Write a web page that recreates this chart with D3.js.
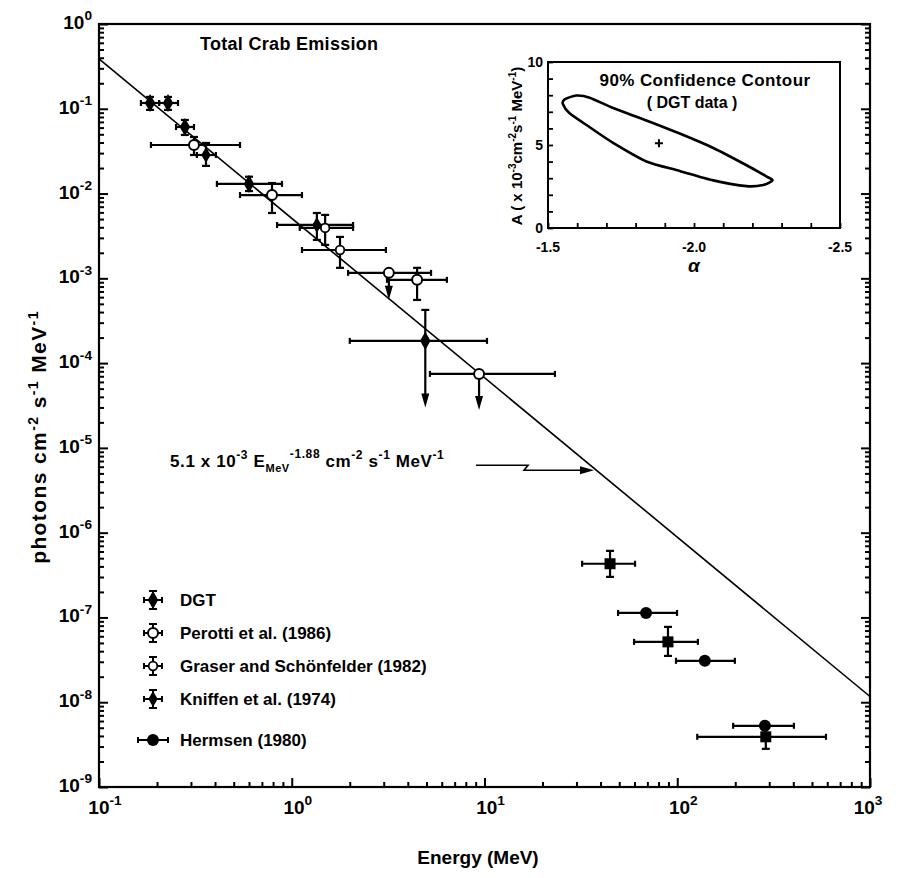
<html lang="en">
<head>
<meta charset="UTF-8">
<script src="https://d3js.org/d3.v7.min.js"></script>
<style>
  body { margin: 0; background: #fff; }
  svg text { font-family: "Liberation Sans", Arial, sans-serif; font-weight: bold; fill: #000; }
</style>
</head>
<body>
<div id="chart"></div>
<script>
// ---- data (E in MeV, flux in photons cm^-2 s^-1 MeV^-1) ----
const dgt = [
  { e: 0.184, f: 0.117,  eLo: 0.165, eHi: 0.205, fLo: 0.097,  fHi: 0.138 },
  { e: 0.228, f: 0.117,  eLo: 0.205, eHi: 0.257, fLo: 0.097,  fHi: 0.138 },
  { e: 0.279, f: 0.061,  eLo: 0.251, eHi: 0.311, fLo: 0.0491, fHi: 0.0738 },
  { e: 0.60,  f: 0.013,  eLo: 0.409, eHi: 0.89,  fLo: 0.0107, fHi: 0.0158 },
  { e: 4.93,  f: 1.83e-4, eLo: 2.0,  eHi: 10.3,  fLo: null,   fHi: 4.24e-4, ul: 3.0e-5 }
];
const perotti = [
  { e: 0.311, f: 0.0374, eLo: 0.186, eHi: 0.539, fLo: 0.0285, fHi: 0.0465 },
  { e: 0.79,  f: 0.0096, eLo: 0.539, eHi: 1.13,  fLo: 0.0059, fHi: 0.0133 },
  { e: 3.19,  f: 1.16e-3, eLo: 1.96, eHi: 5.28,  fLo: null,   fHi: null, ul: 5.6e-4 },
  { e: 4.47,  f: 9.6e-4, eLo: 3.12,  eHi: 6.38,  fLo: 5.56e-4, fHi: 1.33e-3 },
  { e: 9.37,  f: 7.46e-5, eLo: 5.21, eHi: 23.2,  fLo: null,   fHi: null, ul: 2.8e-5 }
];
const graser = [
  { e: 1.49, f: 3.93e-3, eLo: 1.1,  eHi: 2.08, fLo: 2.48e-3, fHi: 5.6e-3 },
  { e: 1.78, f: 2.16e-3, eLo: 1.13, eHi: 3.08, fLo: 1.33e-3, fHi: 3.08e-3 }
];
const kniffen = [
  { e: 0.359, f: 0.0285, eLo: 0.322, eHi: 0.404, fLo: 0.0212, fHi: 0.0395 },
  { e: 1.35,  f: 4.26e-3, eLo: 0.839, eHi: 2.08, fLo: 2.84e-3, fHi: 5.9e-3 }
];
const hermsen = [
  { e: 44.8, f: 4.3e-7,  eLo: 32.1, eHi: 60.4, fLo: 3.01e-7, fHi: 6.1e-7 },
  { e: 68.9, f: 1.13e-7, eLo: 49.3, eHi: 99.7, fLo: null, fHi: null },
  { e: 89.5, f: 5.15e-8, eLo: 59.7, eHi: 128,  fLo: 3.52e-8, fHi: 7.74e-8 },
  { e: 139,  f: 3.08e-8, eLo: 98.5, eHi: 199,  fLo: null, fHi: null },
  { e: 285,  f: 5.27e-9, eLo: 195,  eHi: 403,  fLo: null, fHi: null },
  { e: 288,  f: 3.91e-9, eLo: 127,  eHi: 591,  fLo: 2.82e-9, fHi: 5.13e-9 }
];
const legendLabels = ["DGT", "Perotti et al. (1986)", "Graser and Schönfelder (1982)", "Kniffen et al. (1974)", "Hermsen (1980)"];

// power-law fit quoted on the figure
const fitA = 5.1e-3, fitIndex = -1.88;
const fitRange = [0.1, 1000];
const fitArrowE = 37;

const energyExps = [-1, 0, 1, 2, 3];
const fluxExps = [0, -1, -2, -3, -4, -5, -6, -7, -8, -9];

// inset: 90% confidence contour (alpha, A x1e-3)
const contour = [
  [-1.557, 7.75], [-1.597, 7.98], [-1.643, 7.85], [-1.723, 7.23], [-1.837, 6.48],
  [-1.951, 5.69], [-2.066, 4.82], [-2.180, 3.78], [-2.249, 3.10], [-2.269, 2.87],
  [-2.237, 2.59], [-2.180, 2.52], [-2.066, 2.87], [-1.951, 3.44], [-1.837, 4.01],
  [-1.723, 5.13], [-1.643, 6.07], [-1.574, 6.91], [-1.551, 7.47]
];
const bestFit = [-1.88, 5.1];
const alphaTicks = [-1.5, -2.0, -2.5];
const ampTicks = [0, 5, 10];

// ---- drawing ----
const W = 898, H = 878;
const svg = d3.select("#chart").append("svg").attr("width", W).attr("height", H);

const x = d3.scaleLog().domain([0.1, 1000]).range([99, 870]);
const y = d3.scaleLog().domain([1e-9, 1]).range([787, 24]);

function minorTicks(lo, hi) {
  const out = [];
  for (let p = lo; p < hi; p++) for (let m = 2; m <= 9; m++) out.push(m * Math.pow(10, p));
  return out;
}

// axes with inward ticks
const majX = energyExps.map(p => Math.pow(10, p));
const majY = fluxExps.map(p => Math.pow(10, p));
function addAxis(axisFn, scale, vals, size, transform) {
  const g = svg.append("g").attr("transform", transform)
    .call(axisFn(scale).tickValues(vals).tickSize(-size).tickFormat(""));
  g.select(".domain").remove();
  g.selectAll("line").attr("stroke", "#000").attr("stroke-width", 2);
}
addAxis(d3.axisBottom, x, majX, 9, "translate(0,787)");
addAxis(d3.axisBottom, x, minorTicks(-1, 3), 5, "translate(0,787)");
addAxis(d3.axisLeft, y, majY, 9, "translate(99,0)");
addAxis(d3.axisLeft, y, minorTicks(-9, 0), 5, "translate(99,0)");
addAxis(d3.axisRight, y, majY, 9, "translate(870,0)");
addAxis(d3.axisRight, y, minorTicks(-9, 0), 5, "translate(870,0)");

svg.append("rect").attr("x", 99).attr("y", 24).attr("width", 771).attr("height", 763)
  .attr("fill", "none").attr("stroke", "#000").attr("stroke-width", 2.2);

function powLabel(g, px, py, exp, anchor, size) {
  const t = g.append("text").attr("x", px).attr("y", py).attr("text-anchor", anchor)
    .style("font-size", size + "px");
  t.append("tspan").text("10");
  t.append("tspan").attr("dy", -size * 0.45).style("font-size", (size * 0.72) + "px").text(exp);
  return t;
}
energyExps.forEach(p => powLabel(svg, x(Math.pow(10, p)) + (p === 3 ? -2 : 6), 814, p, "middle", 19));
fluxExps.forEach(p => powLabel(svg, 92, y(Math.pow(10, p)) + 5, p, "end", 19));

// axis titles
svg.append("text").attr("x", 478).attr("y", 864).attr("text-anchor", "middle")
  .style("font-size", "19px").text("Energy (MeV)");
const yt = svg.append("text").attr("transform", "translate(46,437) rotate(-90)")
  .attr("text-anchor", "middle").style("font-size", "21px").style("letter-spacing", "1.4px");
yt.append("tspan").text("photons cm");
yt.append("tspan").attr("dy", -8).style("font-size", "14px").text("-2");
yt.append("tspan").attr("dy", 8).text(" s");
yt.append("tspan").attr("dy", -8).style("font-size", "14px").text("-1");
yt.append("tspan").attr("dy", 8).text("  MeV");
yt.append("tspan").attr("dy", -8).style("font-size", "14px").text("-1");

svg.append("text").attr("x", 200).attr("y", 50)
  .style("font-size", "18px").style("letter-spacing", "0.3px").text("Total Crab Emission");

// fit line
const fit = e => fitA * Math.pow(e, fitIndex);
svg.append("line")
  .attr("x1", x(fitRange[0])).attr("y1", y(fit(fitRange[0])))
  .attr("x2", x(fitRange[1])).attr("y2", y(fit(fitRange[1])))
  .attr("stroke", "#000").attr("stroke-width", 1.6);

// error bars + markers
const pts = svg.append("g");
function drawErr(g, d) {
  const cx = x(d.e), cy = y(d.f);
  const ln = (x1, y1, x2, y2) => g.append("line").attr("x1", x1).attr("y1", y1).attr("x2", x2).attr("y2", y2)
    .attr("stroke", "#000").attr("stroke-width", 2.2);
  ln(x(d.eLo), cy, x(d.eHi), cy);
  ln(x(d.eLo), cy - 3, x(d.eLo), cy + 3);
  ln(x(d.eHi), cy - 3, x(d.eHi), cy + 3);
  if (d.fHi != null) { ln(cx, cy, cx, y(d.fHi)); ln(cx - 4, y(d.fHi), cx + 4, y(d.fHi)); }
  if (d.fLo != null) { ln(cx, cy, cx, y(d.fLo)); ln(cx - 4, y(d.fLo), cx + 4, y(d.fLo)); }
  if (d.ul != null) {
    const yt2 = y(d.ul);
    ln(cx, cy, cx, yt2 - 12);
    g.append("path").attr("d", `M${cx - 4},${yt2 - 14} L${cx + 4},${yt2 - 14} L${cx},${yt2} Z`).attr("fill", "#000");
  }
}
function marker(g, kind, cx, cy) {
  if (kind === "diamond") {
    g.append("path").attr("transform", `translate(${cx},${cy})`)
      .attr("d", d3.symbol(d3.symbolDiamond, 95)()).attr("fill", "#000");
  } else if (kind === "smalldiamond") {
    g.append("path").attr("transform", `translate(${cx},${cy})`)
      .attr("d", d3.symbol(d3.symbolDiamond, 75)()).attr("fill", "#000");
  } else if (kind === "open") {
    g.append("circle").attr("cx", cx).attr("cy", cy).attr("r", 5).attr("fill", "#fff")
      .attr("stroke", "#000").attr("stroke-width", 2);
  } else if (kind === "opensmall") {
    g.append("circle").attr("cx", cx).attr("cy", cy).attr("r", 4.3).attr("fill", "#fff")
      .attr("stroke", "#000").attr("stroke-width", 1.8);
  } else if (kind === "dot") {
    g.append("circle").attr("cx", cx).attr("cy", cy).attr("r", 6).attr("fill", "#000");
  } else if (kind === "square") {
    g.append("rect").attr("x", cx - 5.5).attr("y", cy - 5.5).attr("width", 11).attr("height", 11).attr("fill", "#000");
  }
}
const seriesList = [
  { data: dgt, kind: () => "diamond" },
  { data: kniffen, kind: () => "smalldiamond" },
  { data: perotti, kind: () => "open" },
  { data: graser, kind: () => "opensmall" },
  { data: hermsen, kind: d => d.fHi != null ? "square" : "dot" }
];
seriesList.forEach(s => s.data.forEach(d => drawErr(pts, d)));
seriesList.forEach(s => s.data.forEach(d => marker(pts, s.kind(d), x(d.e), y(d.f))));

// annotation with arrow to the fit line
const tipX = x(fitArrowE), tipY = y(fit(fitArrowE));
const ann = svg.append("text").attr("x", 170).attr("y", tipY - 1).style("letter-spacing", "0.6px");
const seg = [["5.1 x 10", 0, 17], ["-3", -8, 12], [" E", 8, 17], ["MeV", 5, 11], ["-1.88", -14, 12], [" cm", 9, 17],
             ["-2", -8, 12], [" s", 8, 17], ["-1", -8, 12], [" MeV", 8, 17], ["-1", -8, 12]];
seg.forEach(([t, dy, fs]) => ann.append("tspan").attr("dy", dy).style("font-size", fs + "px").text(t));
svg.append("path")
  .attr("d", `M${tipX - 118},${tipY - 3} H${tipX - 66} L${tipX - 70},${tipY + 2} H${tipX - 12}`)
  .attr("fill", "none").attr("stroke", "#000").attr("stroke-width", 1.6);
svg.append("path").attr("d", `M${tipX - 14},${tipY - 2} L${tipX},${tipY + 2} L${tipX - 14},${tipY + 6} Z`).attr("fill", "#000");

// legend
const legY = [600, 633, 666, 699, 740];
const legKinds = ["diamond", "open", "opensmall", "smalldiamond", "dot"];
legendLabels.forEach((lab, i) => {
  const cy = legY[i], cx = 153;
  const g = svg.append("g");
  const hw = i === 4 ? 15 : 9;
  const ln = (x1, y1, x2, y2) => g.append("line").attr("x1", x1).attr("y1", y1).attr("x2", x2).attr("y2", y2)
    .attr("stroke", "#000").attr("stroke-width", 2);
  ln(cx - hw, cy, cx + hw, cy);
  ln(cx - hw, cy - 3, cx - hw, cy + 3);
  ln(cx + hw, cy - 3, cx + hw, cy + 3);
  if (i !== 4) {
    ln(cx, cy - 9, cx, cy + 9);
    ln(cx - 4, cy - 9, cx + 4, cy - 9);
    ln(cx - 4, cy + 9, cx + 4, cy + 9);
  }
  marker(g, legKinds[i], cx, cy);
  svg.append("text").attr("x", 180).attr("y", cy + 6).style("font-size", "17px").text(lab);
});

// ---- inset ----
const ax = d3.scaleLinear().domain([-1.5, -2.5]).range([548, 840]);
const ay = d3.scaleLinear().domain([0, 10]).range([228, 62]);
const inset = svg.append("g");
inset.append("rect").attr("x", 548).attr("y", 62).attr("width", 292).attr("height", 166)
  .attr("fill", "#fff").attr("stroke", "#000").attr("stroke-width", 2);
function insetAxis(axisFn, scale, vals, size, transform) {
  const g = inset.append("g").attr("transform", transform)
    .call(axisFn(scale).tickValues(vals).tickSize(-size).tickFormat(""));
  g.select(".domain").remove();
  g.selectAll("line").attr("stroke", "#000").attr("stroke-width", 1.8);
}
insetAxis(d3.axisBottom, ax, d3.range(0, 11).map(i => -1.5 - i * 0.1), 5, "translate(0,228)");
insetAxis(d3.axisLeft, ay, d3.range(0, 11), 5, "translate(548,0)");
alphaTicks.forEach(v => inset.append("text").attr("x", ax(v)).attr("y", 252)
  .attr("text-anchor", "middle").style("font-size", "14px").text(v.toFixed(1)));
ampTicks.forEach(v => inset.append("text").attr("x", 543).attr("y", ay(v) + 5)
  .attr("text-anchor", "end").style("font-size", "14px").text(v));
inset.append("text").attr("x", ax(-2.0)).attr("y", 272).attr("text-anchor", "middle")
  .style("font-size", "19px").style("font-style", "italic").text("α");
const il = inset.append("text").attr("transform", "translate(522,146) rotate(-90)")
  .attr("text-anchor", "middle").style("font-size", "15px");
il.append("tspan").text("A ( x 10");
il.append("tspan").attr("dy", -6).style("font-size", "10px").text("-3");
il.append("tspan").attr("dy", 6).text("cm");
il.append("tspan").attr("dy", -6).style("font-size", "10px").text("-2");
il.append("tspan").attr("dy", 6).text("s");
il.append("tspan").attr("dy", -6).style("font-size", "10px").text("-1");
il.append("tspan").attr("dy", 6).text(" MeV");
il.append("tspan").attr("dy", -6).style("font-size", "10px").text("-1");
il.append("tspan").attr("dy", 6).text(")");
inset.append("text").attr("x", 705).attr("y", 86).attr("text-anchor", "middle")
  .style("font-size", "17px").style("letter-spacing", "0.4px").text("90% Confidence Contour");
inset.append("text").attr("x", 692).attr("y", 108).attr("text-anchor", "middle")
  .style("font-size", "16px").text("( DGT data )");
inset.append("path")
  .attr("d", d3.line().x(d => ax(d[0])).y(d => ay(d[1])).curve(d3.curveCardinalClosed.tension(0.3))(contour))
  .attr("fill", "none").attr("stroke", "#000").attr("stroke-width", 2.6);
const bx = ax(bestFit[0]), by = ay(bestFit[1]);
inset.append("path").attr("d", `M${bx - 4},${by} H${bx + 4} M${bx},${by - 4} V${by + 4}`)
  .attr("stroke", "#000").attr("stroke-width", 2);
</script>
</body>
</html>
